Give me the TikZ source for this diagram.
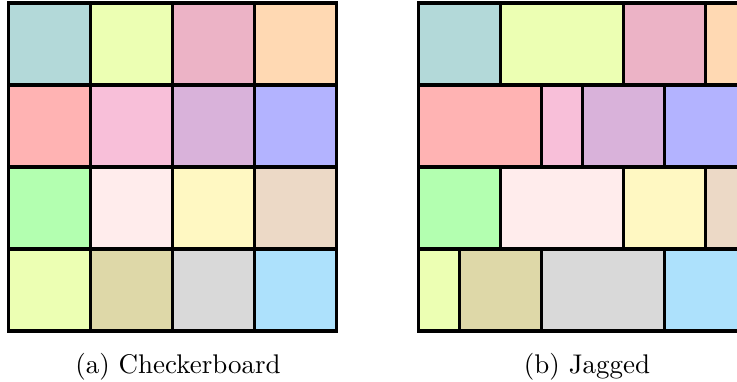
\documentclass[tikz,border=0pt]{standalone}
\usepackage{amsmath, amsfonts, amssymb}
\definecolor{cteal}{HTML}{B3D9D9}
\definecolor{clime}{HTML}{ECFFB3}
\definecolor{cpurple}{HTML}{ECB3C6}
\definecolor{corange}{HTML}{FFD9B3}
\definecolor{cred}{HTML}{FFB3B3}
\definecolor{cpink}{HTML}{F8BFD9}
\definecolor{cviolet}{HTML}{D9B2DA}
\definecolor{cblue}{HTML}{B3B3FF}
\definecolor{cgreen}{HTML}{B3FFB0}
\definecolor{crose}{HTML}{FFECEC}
\definecolor{cyellow}{HTML}{FFF8C2}
\definecolor{cbrown}{HTML}{ECD9C6}
\definecolor{colive}{HTML}{DED8A8}
\definecolor{cgray}{HTML}{D9D9D9}
\definecolor{ccyan}{HTML}{ADE1FC}
\begin{document}
\begin{tikzpicture}[x=30.4pt, y=30.4pt, line width=1.4pt]
\useasboundingbox (-0.104,-0.61) rectangle (8.884,4.037);
\clip (-0.104,-0.61) rectangle (8.884,4.037);
% checkerboard
\foreach \x/\y/\c in {0/3/cteal, 1/3/clime, 2/3/cpurple, 3/3/corange,
  0/2/cred, 1/2/cpink, 2/2/cviolet, 3/2/cblue,
  0/1/cgreen, 1/1/crose, 2/1/cyellow, 3/1/cbrown,
  0/0/clime, 1/0/colive, 2/0/cgray, 3/0/ccyan}
  \fill[\c] (\x,\y) rectangle ++(1,1);
\foreach \i in {1,2,3} {
  \draw (\i,0) -- (\i,4);
  \draw (0,\i) -- (4,\i);
}
\draw (0,0) rectangle (4,4);
\node (capa) at (2.067,-0.439) {(a) Checkerboard};
% jagged
\begin{scope}[shift={(5,0)}]
\foreach \xa/\xb/\y/\c in {0/1/3/cteal, 1/2.5/3/clime, 2.5/3.5/3/cpurple, 3.5/4.5/3/corange,
  0/1.5/2/cred, 1.5/2/2/cpink, 2/3/2/cviolet, 3/4.5/2/cblue,
  0/1/1/cgreen, 1/2.5/1/crose, 2.5/3.5/1/cyellow, 3.5/4.5/1/cbrown,
  0/0.5/0/clime, 0.5/1.5/0/colive, 1.5/3/0/cgray, 3/4.5/0/ccyan}
  \fill[\c] (\xa,\y) rectangle (\xb,\y+1);
\foreach \y in {1,2,3} \draw (0,\y) -- (4.5,\y);
\foreach \x/\y in {1/3, 2.5/3, 3.5/3, 1.5/2, 2/2, 3/2, 1/1, 2.5/1, 3.5/1, 0.5/0, 1.5/0, 3/0}
  \draw (\x,\y) -- ++(0,1);
\draw (0,0) rectangle (4.5,4);
\end{scope}
\node (capb) at (7.055,-0.439) {(b) Jagged};
\end{tikzpicture}
\end{document}
